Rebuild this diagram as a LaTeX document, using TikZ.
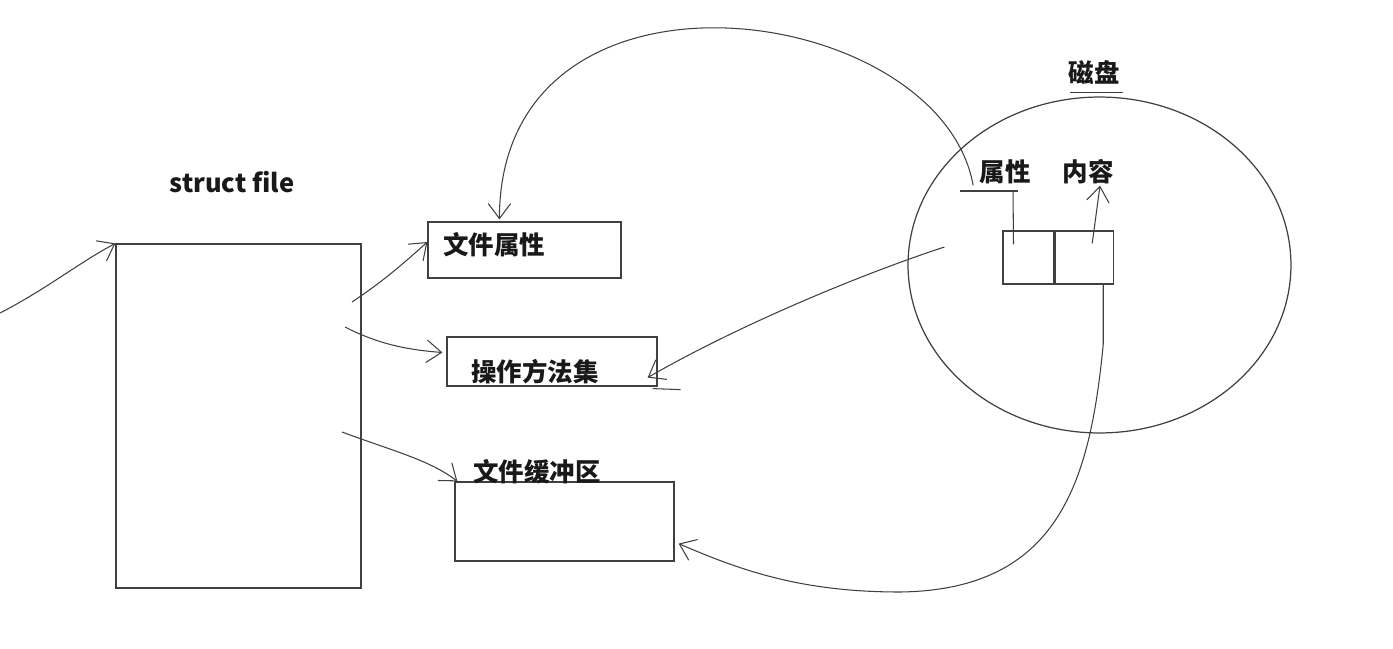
\documentclass[tikz,border=0pt]{standalone}
\usepackage{fontspec}
\newfontfamily\cjkfont{Noto Sans CJK SC}
\usepackage{tikz}
\usetikzlibrary{positioning}
\usetikzlibrary{calc,shapes.geometric}
\usetikzlibrary{arrows.meta}
\colorlet{inkcol}{black!75}
\tikzset{>={Straight Barb[length=3mm,width=4.5mm]}}

\begin{document}
\begin{tikzpicture}[x=0.02cm, y=-0.02cm,
    box/.style={draw=inkcol, line width=0.7pt, rectangle, inner sep=0pt},
    lbl/.style={font=\cjkfont\bfseries\fontsize{14.5}{17}\selectfont, text=black!90, inner sep=0pt},
    hand/.style={draw=inkcol, line width=0.6pt}]
        \useasboundingbox (0,0) rectangle (1393,649);

        % 1. struct file and its box
        \node[lbl] (title) at (232,182) {struct file};
        \node[box, minimum width=4.9cm, minimum height=6.88cm] (struct) at (238.5,416) {};

        % 2. The three parts of the struct
        \node[box, minimum width=3.86cm, minimum height=1.12cm] (attr) at (524.5,250) {};
        \node[lbl, anchor=west] (attrtxt) at (443,245) {文件属性};
        \node[box, minimum width=4.2cm, minimum height=0.98cm] (ops) at (552,361.5) {};
        \node[lbl] (opstxt) at (535,372) {操作方法集};
        \node[box, minimum width=4.38cm, minimum height=1.58cm] (buf) at (564.5,521.5) {};
        \node[lbl] (buftxt) at (537,472) {文件缓冲区};

        % 3. The disk
        \node[box, ellipse, minimum width=7.66cm, minimum height=6.72cm] (disk) at (1099.5,265) {};
        \node[lbl] (disktxt) at (1094,73) {磁盘};
        \draw[hand] ($(disktxt.south west)+(2,7)$) -- ($(disktxt.south east)+(3,7)$);
        \node[lbl] (proptxt) at (1005,172) {属性};
        \node[lbl] (contxt) at (1088,172) {内容};
        \node[box, minimum width=1.02cm, minimum height=1.06cm] (cellA) at (1028.5,257.5) {};
        \node[box, minimum width=1.16cm, minimum height=1.06cm, right=0pt of cellA] (cellB) {};
        \draw[hand] (960,191) -- (1018,191);
        \draw[hand] ($(cellA.north)+(-15,14)$) -- ($(proptxt.south)+(8,6)$);
        \draw[hand, ->] ($(cellB.north)+(8,13)$) .. controls (1096,215) .. ($(contxt.south)+(12,1)$);

        % 4. Arrows from the struct
        \coordinate (in) at (0,313);
        \draw[hand, ->] (in) .. controls (45,290) and (80,262) .. (struct.north west);
        \coordinate (s1) at (352,302);
        \draw[hand, ->] (s1) .. controls (385,280) and (405,262) .. ($(attr.west)+(0,-8)$);
        \coordinate (s2) at (345,327);
        \draw[hand, ->] (s2) .. controls (380,345) and (410,350) .. ($(ops.west)+(-4,-9)$);
        \coordinate (s3) at (342,432);
        \draw[hand, ->] (s3) .. controls (390,450) and (430,460) .. ($(buf.north west)+(3,0)$);

        % 5. Arrows from the disk
        \draw[hand, ->] ($(proptxt.south west)+(-6,1)$) .. controls (940,0) and (500,-60) .. ($(attr.north west)+(72,-2)$);
        \draw[hand, ->] ($(disk.west)+(37,-18)$) .. controls (850,278) and (730,330) .. ($(ops.south east)+(-10,-9)$);
        \draw[hand] ($(ops.south east)+(-5,2)$) -- ($(ops.south east)+(23,3)$);
        \draw[hand, ->] ($(cellB.south)+(19,0)$) -- ++(0,60) .. controls (1090,480) and (1060,590) .. (900,592) .. controls (800,592) and (740,570) .. ($(buf.south east)+(4,-18)$);
    \end{tikzpicture}
\end{document}
